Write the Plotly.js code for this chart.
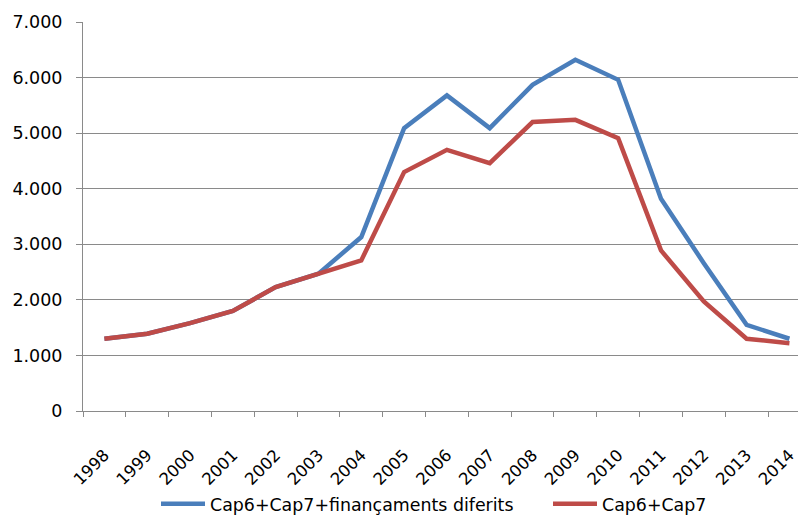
<!DOCTYPE html>
<html>
<head>
<meta charset="utf-8">
<script src="https://cdn.plot.ly/plotly-3.0.1.min.js"></script>
<style>html,body{margin:0;padding:0;overflow:hidden;background:#fff}</style>
</head>
<body>
<div id="chart" style="width:798px;height:516px"></div>
<script>
var years = ['1998','1999','2000','2001','2002','2003','2004','2005','2006','2007','2008','2009','2010','2011','2012','2013','2014'];
var seriesBlueName = 'Cap6+Cap7+finançaments diferits';
var seriesBlue = [1300, 1390, 1580, 1800, 2230, 2470, 3130, 5090, 5680, 5090, 5870, 6320, 5960, 3820, 2660, 1550, 1300];
var seriesRedName = 'Cap6+Cap7';
var seriesRed = [1300, 1390, 1580, 1800, 2230, 2470, 2710, 4300, 4700, 4460, 5200, 5240, 4910, 2890, 1970, 1300, 1220];
var yTicks = [0, 1000, 2000, 3000, 4000, 5000, 6000, 7000];

var grid = '#8a8a8a';
var data = [
  {x: years, y: seriesBlue, name: seriesBlueName, type: 'scatter', mode: 'lines',
   line: {color: '#4a7ebb', width: 4.5}, legend: 'legend'},
  {x: years, y: seriesRed, name: seriesRedName, type: 'scatter', mode: 'lines',
   line: {color: '#be4b48', width: 4.5}, legend: 'legend2'}
];
var legFont = {size: 17.4, color: '#000', family: 'DejaVu Sans, sans-serif'};
var layout = {
  width: 798, height: 516,
  margin: {l: 83, r: 0, t: 22, b: 105, autoexpand: false},
  paper_bgcolor: '#fff', plot_bgcolor: '#fff',
  separators: ',.',
  font: {family: 'DejaVu Sans, sans-serif', color: '#000'},
  showlegend: true,
  legend: {orientation: 'h', xref: 'container', yref: 'container', x: 156/798, xanchor: 'left',
           y: 1 - 504/516, yanchor: 'middle', font: legFont, itemwidth: 44, bgcolor: 'rgba(0,0,0,0)'},
  legend2: {orientation: 'h', xref: 'container', yref: 'container', x: 548/798, xanchor: 'left',
           y: 1 - 504/516, yanchor: 'middle', font: legFont, itemwidth: 44, bgcolor: 'rgba(0,0,0,0)'},
  xaxis: {type: 'category', range: [-0.5, 16.2], tickson: 'boundaries', automargin: false,
          ticks: 'outside', ticklen: 5, tickcolor: grid, tickwidth: 1,
          showline: true, linecolor: grid, linewidth: 1, showgrid: false, zeroline: false,
          tickangle: -45, tickfont: {size: 16.5, color: '#000'}, ticklabelstandoff: 27, fixedrange: true},
  yaxis: {range: [0, 7000], tickvals: yTicks, tickformat: ',d', automargin: false,
          ticks: 'outside', ticklen: 6, tickcolor: grid, tickwidth: 1,
          showline: true, linecolor: grid, linewidth: 1,
          showgrid: true, gridcolor: grid, gridwidth: 1, zeroline: false,
          tickfont: {size: 17.5, color: '#000'}, ticklabelstandoff: 10, fixedrange: true}
};
Plotly.newPlot('chart', data, layout, {displayModeBar: false, staticPlot: true});
</script>
</body>
</html>
